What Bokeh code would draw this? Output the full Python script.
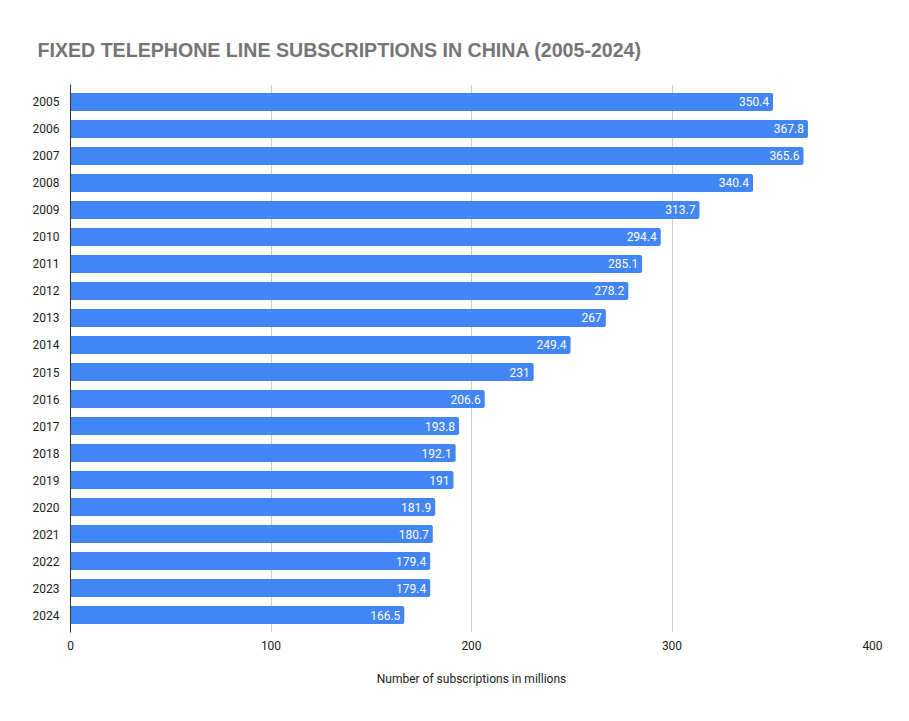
from bokeh.models import ColumnDataSource, LabelSet, FactorRange
from bokeh.core.properties import value
from bokeh.plotting import figure
from bokeh.embed import file_html
from bokeh.resources import INLINE

years = [str(y) for y in range(2005, 2025)]
subs = [350.4, 367.8, 365.6, 340.4, 313.7, 294.4, 285.1, 278.2, 267, 249.4,
        231, 206.6, 193.8, 192.1, 191, 181.9, 180.7, 179.4, 179.4, 166.5]
x_ticks = [0, 100, 200, 300, 400]

labels = [("%g" % v) for v in subs]
source = ColumnDataSource(data=dict(year=years, subs=subs, label=labels))

yr = FactorRange(*reversed(years))
yr.range_padding = 0.144
yr.range_padding_units = "absolute"

p = figure(y_range=yr, x_range=(0, 400),
           width=893, height=705, output_backend="svg", toolbar_location=None,
           title="FIXED TELEPHONE LINE SUBSCRIPTIONS IN CHINA (2005-2024)",
           x_axis_label="Number of subscriptions in millions")
p.min_border_left = 70
p.min_border_right = 21
p.min_border_top = 84
p.min_border_bottom = 73
p.outline_line_color = None

p.title.text_font = "Liberation Sans"
p.title.text_font_size = "19.6px"
p.title.text_font_style = "bold"
p.title.text_color = "#757575"
p.title.offset = -33
p.title.standoff = 48

p.hbar(y="year", right="subs", left=0, height=0.667, source=source,
       color="#4285F4", line_color=None, border_radius=[0, 2, 2, 0])

p.add_layout(LabelSet(x="subs", y="year", text="label", source=source,
                      x_offset=-4, text_align="right", text_baseline="middle",
                      text_color="white", text_font_size="12px",
                      text_font=value("Roboto")))

p.xaxis.ticker = x_ticks
p.xaxis.axis_line_color = None
p.xaxis.major_tick_line_color = None
p.xaxis.minor_tick_line_color = None
p.xaxis.major_label_text_font = "Roboto"
p.xaxis.major_label_text_font_size = "12px"
p.xaxis.major_label_text_color = "#222222"
p.xaxis.major_label_standoff = 2
p.xaxis.axis_label_text_font = "Roboto"
p.xaxis.axis_label_text_font_size = "12px"
p.xaxis.axis_label_text_font_style = "normal"
p.xaxis.axis_label_text_color = "#222222"
p.xaxis.axis_label_standoff = 19

p.yaxis.axis_line_color = "#333333"
p.yaxis.major_tick_line_color = None
p.yaxis.minor_tick_line_color = None
p.yaxis.major_label_text_font = "Roboto"
p.yaxis.major_label_text_font_size = "12px"
p.yaxis.major_label_text_color = "#222222"
p.yaxis.major_label_standoff = 5

p.ygrid.grid_line_color = None
p.xgrid.grid_line_color = "#cccccc"
p.xgrid.grid_line_width = 1

open("out.html", "w").write(file_html(p, INLINE))
